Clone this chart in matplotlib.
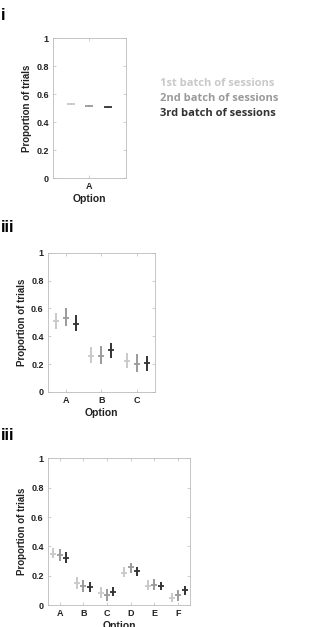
import numpy as np
import matplotlib.pyplot as plt

plt.rcParams['font.family'] = ['Liberation Sans', 'DejaVu Sans']

batch_labels = ['1st batch of sessions', '2nd batch of sessions', '3rd batch of sessions']
batch_colors = ['#c9c9c9', '#9a9a9a', '#333333']

# panel i: one option
opts1 = ['A']
mean1 = [[0.53], [0.515], [0.505]]
lo1 = [[0.52], [0.51], [0.502]]
hi1 = [[0.54], [0.52], [0.508]]

# panel ii: three options
opts2 = ['A', 'B', 'C']
mean2 = [[0.51, 0.26, 0.22],
         [0.53, 0.26, 0.20],
         [0.49, 0.30, 0.21]]
lo2 = [[0.45, 0.21, 0.17],
       [0.47, 0.20, 0.14],
       [0.44, 0.24, 0.15]]
hi2 = [[0.57, 0.32, 0.28],
       [0.60, 0.33, 0.27],
       [0.55, 0.35, 0.26]]

# panel iii: six options
opts3 = ['A', 'B', 'C', 'D', 'E', 'F']
mean3 = [[0.35, 0.15, 0.08, 0.22, 0.13, 0.05],
         [0.34, 0.13, 0.07, 0.26, 0.14, 0.07],
         [0.32, 0.12, 0.09, 0.23, 0.13, 0.10]]
lo3 = [[0.32, 0.11, 0.05, 0.19, 0.10, 0.02],
       [0.30, 0.09, 0.03, 0.22, 0.10, 0.03],
       [0.29, 0.09, 0.06, 0.20, 0.10, 0.07]]
hi3 = [[0.39, 0.19, 0.12, 0.26, 0.17, 0.08],
       [0.38, 0.17, 0.11, 0.29, 0.18, 0.10],
       [0.36, 0.16, 0.12, 0.26, 0.16, 0.13]]

fig = plt.figure(figsize=(3.35, 6.27), dpi=100)


def panel(rect, opts, mean, lo, hi, label, lbl_y, offset, msize):
    ax = fig.add_axes(rect)
    x = np.arange(1, len(opts) + 1)
    for k in range(3):
        m = np.array(mean[k])
        err = [m - np.array(lo[k]), np.array(hi[k]) - m]
        ax.errorbar(x + (k - 1) * offset, m, yerr=err, fmt='_', color=batch_colors[k],
                    ecolor=batch_colors[k], elinewidth=1.4, markersize=msize, mew=1.3, capsize=0)
    ax.set_xlim(0.5, len(opts) + 0.5)
    ax.set_ylim(0, 1)
    ax.set_xticks(x)
    ax.set_xticklabels(opts)
    ax.set_yticks([0, 0.2, 0.4, 0.6, 0.8, 1])
    ax.set_yticklabels(['0', '0.2', '0.4', '0.6', '0.8', '1'])
    ax.tick_params(direction='in', length=2, width=0.5, colors='#bbbbbb', labelcolor='#222222',
                   labelsize=6.5, top=True, right=True, pad=3)
    for t in ax.get_xticklabels() + ax.get_yticklabels():
        t.set_fontweight('bold')
    for s in ax.spines.values():
        s.set_color('#bbbbbb')
        s.set_linewidth(0.6)
    ax.set_xlabel('Option', fontsize=7.5, fontweight='bold', color='#222222', labelpad=2)
    ax.set_ylabel('Proportion of trials', fontsize=7, fontweight='bold', color='#222222', labelpad=3)
    fig.text(0.003, lbl_y, label, fontsize=12, fontweight='bold', va='center', ha='left')
    return ax


panel([0.158, 0.716, 0.218, 0.223], opts1, mean1, lo1, hi1, 'i', 1 - 15 / 627, 0.25, 5.5)
panel([0.143, 0.375, 0.319, 0.222], opts2, mean2, lo2, hi2, 'iii', 1 - 228 / 627, 0.28, 5)
panel([0.143, 0.035, 0.424, 0.234], opts3, mean3, lo3, hi3, 'iii', 1 - 435 / 627, 0.27, 4)

for k, (lab, col) in enumerate(zip(batch_labels, batch_colors)):
    fig.text(160 / 335, 1 - (83 + 15.5 * k) / 627, lab, color=col, fontsize=8,
             fontweight='bold', va='center', ha='left', family=['Open Sans', 'DejaVu Sans'])

fig.savefig('out.png', dpi=100)
